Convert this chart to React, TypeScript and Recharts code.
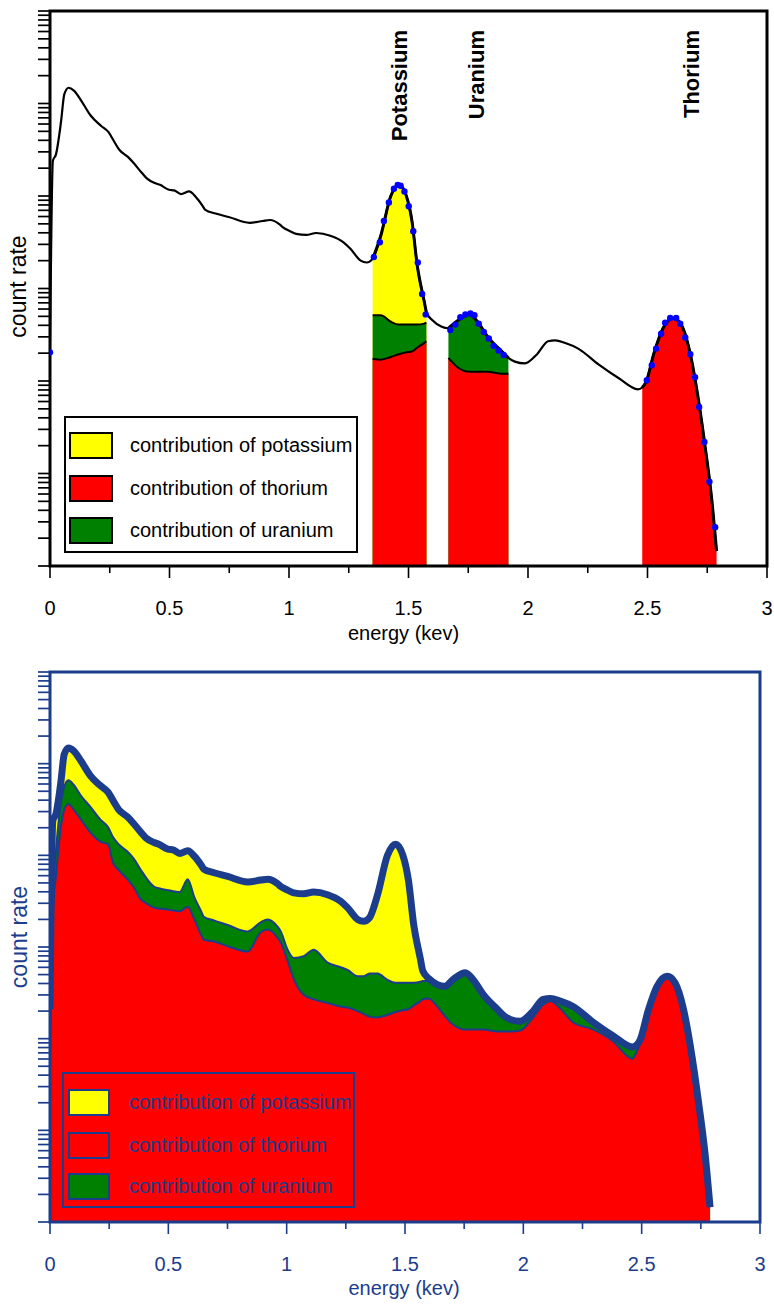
import React from 'react';
import {
  ComposedChart,
  Area,
  Line,
  Scatter,
  XAxis,
  YAxis,
  ReferenceArea,
  ReferenceLine,
  Legend,
} from 'recharts';

const FONT = '"Liberation Sans", Arial, Helvetica, sans-serif';
const BLUE = '#1b3d8c';
const YELLOW = '#ffff00';
const RED = '#ff0000';
const GREEN = '#008000';
const DOT_BLUE = '#0000ff';

// ---------- data (energy in keV, count rate) ----------
const energy = [
  0, 0.012, 0.025, 0.046, 0.06, 0.078, 0.1, 0.131, 0.17, 0.213, 0.245, 0.266, 0.29, 0.327, 0.352,
  0.384, 0.405, 0.439, 0.46, 0.498, 0.52, 0.548, 0.582, 0.61, 0.637, 0.65, 0.693, 0.751, 0.835,
  0.89, 0.92, 0.962, 0.975, 1.004, 1.03, 1.072, 1.114, 1.173, 1.228, 1.257, 1.3, 1.325, 1.35,
  1.384, 1.426, 1.46, 1.49, 1.515, 1.536, 1.565, 1.575, 1.599, 1.637, 1.667, 1.705, 1.755, 1.789,
  1.831, 1.89, 1.918, 1.945, 1.987, 2.038, 2.084, 2.114, 2.156, 2.21, 2.295, 2.38, 2.46, 2.478,
  2.494, 2.527, 2.565, 2.608, 2.641, 2.675, 2.713, 2.738, 2.768, 2.789,
];

// total measured spectrum
const totalCount = [
  209, 24000, 28200, 63100, 126000, 148000, 138000, 107000, 74100, 57500, 49000, 39800, 31600,
  26300, 22400, 17800, 15500, 13800, 13200, 11700, 11500, 10500, 11200, 9770, 7940, 7080, 6460,
  5890, 5130, 5370, 5500, 4900, 4570, 4170, 3890, 3800, 3980, 3720, 3160, 2690, 2000, 1910, 2090,
  3720, 10000, 13200, 10200, 5250, 1820, 741, 550, 457, 389, 372, 447, 525, 437, 302, 209, 178,
  162, 155, 195, 269, 275, 257, 224, 151, 107, 81.3, 85.1, 97.7, 200, 372, 479, 407, 219, 63.1,
  22.4, 5.5, 1.45,
];

// thorium + uranium contribution (top of the green layer)
const thoriumUraniumCount = [
  100, 3980, 11200, 37200, 56200, 66100, 58900, 44700, 33900, 24500, 20400, 15800, 13200, 11000,
  9330, 6920, 5750, 4570, 4370, 4170, 4070, 3980, 5500, 3470, 2510, 2140, 1950, 1740, 1480, 1860,
  2000, 1660, 1480, 933, 759, 794, 933, 676, 603, 562, 479, 479, 513, 513, 437, 407, 407, 407, 407,
  417, 427, 427, 389, 372, 447, 525, 437, 302, 209, 178, 162, 151, 186, 257, 269, 245, 214, 148,
  105, 77.6, 83.2, 97.7, 200, 372, 479, 407, 219, 63.1, 22.4, 5.5, 1.45,
];

// thorium contribution (top of the red layer)
const thoriumCount = [
  50.1, 2510, 5890, 20400, 31600, 36300, 31600, 24500, 17800, 14100, 13200, 8320, 6920, 5500, 4570,
  3310, 3020, 2690, 2630, 2570, 2510, 2450, 2750, 2000, 1380, 1200, 1150, 1020, 891, 1450, 1550,
  1260, 1120, 708, 447, 302, 269, 245, 224, 219, 200, 186, 174, 170, 182, 195, 204, 209, 229, 257,
  269, 275, 224, 178, 141, 126, 126, 126, 120, 120, 120, 123, 166, 234, 257, 214, 151, 126, 93.3,
  60.3, 70.8, 91.2, 200, 372, 479, 407, 219, 63.1, 22.4, 5.5, 1.45,
];

// measured channels shown as blue dots (top panel)
const dotEnergy = [
  0, 1.355, 1.38, 1.397, 1.418, 1.439, 1.455, 1.467, 1.483, 1.501, 1.52, 1.539, 1.557, 1.572,
  1.675, 1.696, 1.717, 1.738, 1.759, 1.776, 1.794, 1.815, 1.836, 1.856, 1.877, 1.898,
  2.497, 2.518, 2.536, 2.557, 2.574, 2.595, 2.62, 2.637, 2.658, 2.679, 2.699, 2.716, 2.738, 2.759,
  2.783,
];
const dotCount = [
  204, 2190, 3160, 5370, 8510, 12000, 13200, 12900, 11200, 7760, 4170, 1910, 871, 525,
  355, 407, 490, 525, 537, 513, 417, 339, 288, 240, 214, 191,
  102, 148, 224, 324, 427, 479, 479, 417, 295, 195, 110, 52.5, 21.9, 8.13, 2.63,
];

// energy windows of the three elements (top panel)
const potassiumWindow = [1.35, 1.575];
const uraniumWindow = [1.667, 1.918];
const thoriumWindow = [2.478, 2.789];

const peakLabels = [
  { name: 'Potassium', energy: 1.462 },
  { name: 'Uranium', energy: 1.782 },
  { name: 'Thorium', energy: 2.68 },
];

const legendLabels = ['contribution of potassium', 'contribution of thorium', 'contribution of uranium'];
const legendColors = [YELLOW, RED, GREEN];

const xTicks = [0, 0.25, 0.5, 0.75, 1, 1.25, 1.5, 1.75, 2, 2.25, 2.5, 2.75, 3];
const xTickLabels = ['0', '', '0.5', '', '1', '', '1.5', '', '2', '', '2.5', '', '3'];
const yDecades = [1, 10, 100, 1000, 10000, 100000];
const yMantissas = [1, 2, 3, 4, 5, 6, 7, 8, 9];
const yTicks = yDecades.flatMap((d) => yMantissas.map((m) => m * d)).concat([1000000]);

// ---------- derived tables ----------
const spectrum = energy.map((e, i) => ({
  e,
  total: totalCount[i],
  thu: thoriumUraniumCount[i],
  th: thoriumCount[i],
}));
const dots = dotEnergy.map((e, i) => ({ e, c: dotCount[i] }));
const inWindow = (w: number[]) => spectrum.filter((d) => d.e >= w[0] - 1e-9 && d.e <= w[1] + 1e-9);
const kData = inWindow(potassiumWindow);
const uData = inWindow(uraniumWindow);
const thData = inWindow(thoriumWindow);

// ---------- helpers ----------
const makeXTick = (color: string) => (props: any) => {
  const { x, y, payload } = props;
  const idx = xTicks.findIndex((t) => Math.abs(t - payload.value) < 1e-9);
  const label = idx >= 0 ? xTickLabels[idx] : '';
  const major = label !== '';
  return (
    <g>
      <line x1={x} x2={x} y1={y} y2={y + (major ? 12 : 7)} stroke={color} strokeWidth={1.6} />
      {major && (
        <text x={x} y={y + 49} textAnchor="middle" fill={color} fontSize={20} fontFamily={FONT}>
          {label}
        </text>
      )}
    </g>
  );
};

const makeYTick = (color: string) => (props: any) => {
  const { x, y } = props;
  return <line x1={x - 12} x2={x} y1={y} y2={y} stroke={color} strokeWidth={1.7} />;
};

const makeXTitle = (color: string, dy: number, dx: number) => (props: any) => {
  const vb = props.viewBox || {};
  return (
    <text x={vb.x + vb.width / 2 + dx} y={vb.y + dy} textAnchor="middle" fill={color} fontSize={20} fontFamily={FONT}>
      energy (kev)
    </text>
  );
};

const makeYTitle = (color: string, dx: number, dyc: number) => (props: any) => {
  const vb = props.viewBox || {};
  const cx = vb.x + dx;
  const cy = vb.y + vb.height / 2 + dyc;
  return (
    <text
      x={cx}
      y={cy}
      transform={`rotate(-90 ${cx} ${cy})`}
      textAnchor="middle"
      dominantBaseline="central"
      fill={color}
      fontSize={23}
      fontFamily={FONT}
    >
      count rate
    </text>
  );
};

const makePeakLabel = (text: string) => (props: any) => {
  const vb = props.viewBox || {};
  const x = vb.x + 8;
  const y = 30;
  return (
    <text
      x={x}
      y={y}
      transform={`rotate(-90 ${x} ${y})`}
      textAnchor="end"
      fontWeight="bold"
      fontSize={22}
      fontFamily={FONT}
      fill="#000"
    >
      {text}
    </text>
  );
};

type LegendStyle = {
  border: string;
  text: string;
  swatchLeft: number;
  swatchTops: number[];
  swatchW: number;
  swatchH: number;
  textLeft: number;
};

function LegendBox({ s }: { s: LegendStyle }) {
  return (
    <div
      style={{
        position: 'relative',
        width: '100%',
        height: '100%',
        boxSizing: 'border-box',
        border: `2px solid ${s.border}`,
        fontFamily: FONT,
      }}
    >
      {legendLabels.map((label, i) => (
        <React.Fragment key={label}>
          <div
            style={{
              position: 'absolute',
              left: s.swatchLeft,
              top: s.swatchTops[i],
              width: s.swatchW,
              height: s.swatchH,
              boxSizing: 'border-box',
              border: `2px solid ${s.border}`,
              background: legendColors[i],
            }}
          />
          <div
            style={{
              position: 'absolute',
              left: s.textLeft,
              top: s.swatchTops[i],
              height: s.swatchH,
              lineHeight: `${s.swatchH}px`,
              fontSize: 20,
              color: s.text,
              whiteSpace: 'nowrap',
            }}
          >
            {label}
          </div>
        </React.Fragment>
      ))}
    </div>
  );
}

const topLegend: LegendStyle = {
  border: '#000',
  text: '#000',
  swatchLeft: 3,
  swatchTops: [14, 57, 99],
  swatchW: 44,
  swatchH: 27,
  textLeft: 64,
};
const bottomLegend: LegendStyle = {
  border: BLUE,
  text: BLUE,
  swatchLeft: 4,
  swatchTops: [15, 58, 99],
  swatchW: 42,
  swatchH: 27,
  textLeft: 65,
};

function TopChart() {
  return (
    <ComposedChart width={774} height={650} margin={{ top: 11, right: 7, bottom: 0, left: 10 }} style={{ fontFamily: FONT }}>
      <XAxis
        type="number"
        dataKey="e"
        domain={[0, 3]}
        ticks={xTicks}
        interval={0}
        allowDataOverflow
        height={84}
        tickSize={0}
        tickMargin={0}
        tickLine={false}
        axisLine={false}
        tick={makeXTick('#000')}
        label={makeXTitle('#000', 74, -5)}
      />
      <YAxis
        type="number"
        scale="log"
        domain={[1, 1000000]}
        allowDataOverflow
        ticks={yTicks}
        interval={0}
        width={40}
        tickSize={0}
        tickMargin={0}
        tickLine={false}
        axisLine={false}
        tick={makeYTick('#000')}
        label={makeYTitle('#000', 8, -2)}
      />
      <Area data={kData} dataKey="total" type="monotone" baseValue={1} fill={YELLOW} fillOpacity={1} stroke="#000" strokeWidth={3} dot={false} activeDot={false} isAnimationActive={false} />
      <Area data={kData} dataKey="thu" type="monotone" baseValue={1} fill={GREEN} fillOpacity={1} stroke="#000" strokeWidth={2} dot={false} activeDot={false} isAnimationActive={false} />
      <Area data={kData} dataKey="th" type="monotone" baseValue={1} fill={RED} fillOpacity={1} stroke="#000" strokeWidth={2} dot={false} activeDot={false} isAnimationActive={false} />
      <Area data={uData} dataKey="total" type="monotone" baseValue={1} fill={GREEN} fillOpacity={1} stroke="#000" strokeWidth={3} dot={false} activeDot={false} isAnimationActive={false} />
      <Area data={uData} dataKey="th" type="monotone" baseValue={1} fill={RED} fillOpacity={1} stroke="#000" strokeWidth={2} dot={false} activeDot={false} isAnimationActive={false} />
      <Area data={thData} dataKey="total" type="monotone" baseValue={1} fill={RED} fillOpacity={1} stroke="#000" strokeWidth={3} dot={false} activeDot={false} isAnimationActive={false} />
      <Scatter
        data={dots}
        dataKey="c"
        isAnimationActive={false}
        shape={(p: any) => <circle cx={p.cx} cy={p.cy} r={3.2} fill={DOT_BLUE} />}
      />
      <Line data={spectrum} dataKey="total" type="monotone" stroke="#000" strokeWidth={2.2} dot={false} activeDot={false} isAnimationActive={false} />
      {peakLabels.map((p) => (
        <ReferenceLine key={p.name} x={p.energy} stroke="none" strokeOpacity={0} label={makePeakLabel(p.name)} />
      ))}
      <ReferenceArea x1={0} x2={3} y1={1} y2={1000000} fill="none" fillOpacity={0} stroke="#000" strokeWidth={3} />
      <Legend
        layout="vertical"
        align="center"
        verticalAlign="middle"
        wrapperStyle={{ left: 64, top: 416, width: 294, height: 137 }}
        content={() => <LegendBox s={topLegend} />}
      />
    </ComposedChart>
  );
}

function BottomChart() {
  return (
    <ComposedChart width={774} height={655} margin={{ top: 22, right: 14, bottom: 0, left: 10 }} style={{ fontFamily: FONT }}>
      <XAxis
        type="number"
        dataKey="e"
        domain={[0, 3]}
        ticks={xTicks}
        interval={0}
        allowDataOverflow
        height={83}
        tickSize={0}
        tickMargin={0}
        tickLine={false}
        axisLine={false}
        tick={makeXTick(BLUE)}
        label={makeXTitle(BLUE, 73, -1)}
      />
      <YAxis
        type="number"
        scale="log"
        domain={[1, 1000000]}
        allowDataOverflow
        ticks={yTicks}
        interval={0}
        width={40}
        tickSize={0}
        tickMargin={0}
        tickLine={false}
        axisLine={false}
        tick={makeYTick(BLUE)}
        label={makeYTitle(BLUE, 9, -10)}
      />
      <Area data={spectrum} dataKey="total" type="monotone" baseValue={1} fill={YELLOW} fillOpacity={1} stroke="none" dot={false} activeDot={false} isAnimationActive={false} />
      <Area data={spectrum} dataKey="thu" type="monotone" baseValue={1} fill={GREEN} fillOpacity={1} stroke={BLUE} strokeWidth={2} dot={false} activeDot={false} isAnimationActive={false} />
      <Area data={spectrum} dataKey="th" type="monotone" baseValue={1} fill={RED} fillOpacity={1} stroke={BLUE} strokeWidth={2} dot={false} activeDot={false} isAnimationActive={false} />
      <Line data={spectrum} dataKey="total" type="monotone" stroke={BLUE} strokeWidth={7} dot={false} activeDot={false} isAnimationActive={false} />
      <ReferenceArea x1={0} x2={3} y1={1} y2={1000000} fill="none" fillOpacity={0} stroke={BLUE} strokeWidth={3} />
      <Legend
        layout="vertical"
        align="center"
        verticalAlign="middle"
        wrapperStyle={{ left: 62, top: 422, width: 293, height: 136 }}
        content={() => <LegendBox s={bottomLegend} />}
      />
    </ComposedChart>
  );
}

export default function App() {
  return (
    <div style={{ position: 'absolute', left: 0, top: 0, width: 774, height: 1305, background: '#fff' }}>
      <TopChart />
      <BottomChart />
    </div>
  );
}
